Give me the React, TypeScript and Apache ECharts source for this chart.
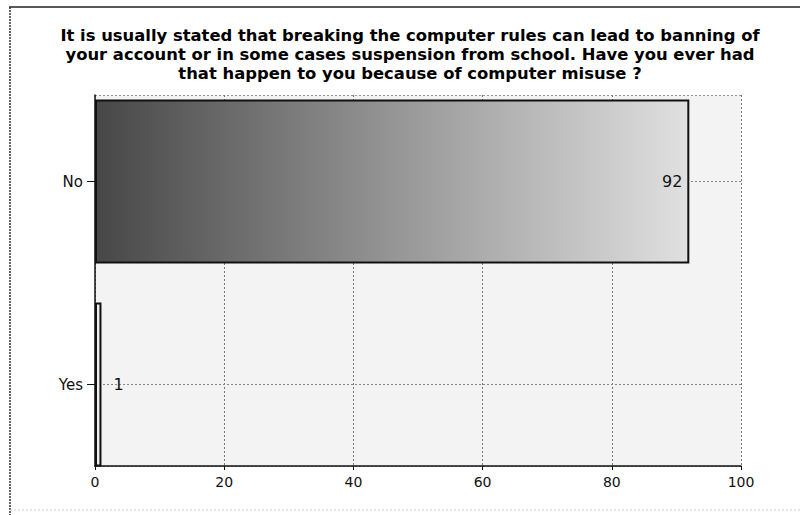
import React, { useEffect, useRef } from "react";
import * as echarts from "echarts";

const titleLines = [
  "It is usually stated that breaking the computer rules can lead to banning of",
  "your account or in some cases suspension from school. Have you ever had",
  "that happen to you because of computer misuse ?",
];
const categories = ["No", "Yes"];
const values = [92, 1];
const xTicks = { min: 0, max: 100, interval: 20 };

export default function App() {
  const ref = useRef<HTMLDivElement>(null);
  useEffect(() => {
    document.body.style.margin = "0";
    const chart = echarts.init(ref.current!, null, { renderer: "svg" });
    const font = "DejaVu Sans, Liberation Sans, Arial, sans-serif";
    const noGradient = new echarts.graphic.LinearGradient(0, 0, 1, 0, [
      { offset: 0, color: "#474747" },
      { offset: 0.5, color: "#959595" },
      { offset: 1, color: "#e0e0e0" },
    ]);
    chart.setOption({
      animation: false,
      backgroundColor: "#ffffff",
      grid: [
        { left: 95, right: 59, top: 80, bottom: 29, show: false },
        {
          left: 95,
          right: 59,
          top: 95,
          bottom: 49,
          show: true,
          backgroundColor: "#f3f3f3",
          borderWidth: 0,
        },
      ],
      xAxis: [
        {
          gridIndex: 0,
          type: "value",
          ...xTicks,
          show: false,
        },
        {
          gridIndex: 1,
          type: "value",
          ...xTicks,
          axisLine: { show: true, lineStyle: { color: "#111", width: 1.5 } },
          axisTick: { show: true, length: 4, lineStyle: { color: "#111" } },
          axisLabel: { color: "#111", fontFamily: font, fontSize: 14, margin: 9 },
          splitLine: {
            show: true,
            lineStyle: { color: "#777", type: [2, 2], width: 1 },
          },
        },
      ],
      yAxis: [
        {
          gridIndex: 0,
          type: "category",
          data: categories,
          inverse: true,
          axisLine: { show: false },
          axisTick: {
            show: true,
            alignWithLabel: true,
            length: 8,
            lineStyle: { color: "#111" },
          },
          axisLabel: { color: "#111", fontFamily: font, fontSize: 15, margin: 12 },
          splitLine: { show: false },
        },
        {
          gridIndex: 1,
          type: "value",
          min: 0,
          max: 1,
          interval: 1,
          axisLine: { show: true, lineStyle: { color: "#111", width: 1.5 } },
          axisTick: { show: false },
          axisLabel: { show: false },
          splitLine: {
            show: true,
            lineStyle: { color: "#999", type: [2, 2], width: 1 },
          },
        },
      ],
      series: [
        {
          type: "line",
          xAxisIndex: 0,
          yAxisIndex: 0,
          data: [],
          z: 1,
          silent: true,
          markLine: {
            silent: true,
            symbol: "none",
            label: { show: false },
            z: 1,
            lineStyle: { color: "#888", type: [2, 2], width: 1 },
            data: categories.map((c) => ({ yAxis: c })),
          },
        },
        {
          type: "bar",
          xAxisIndex: 0,
          yAxisIndex: 0,
          z: 3,
          barWidth: 164,
          itemStyle: { borderColor: "#111", borderWidth: 2 },
          data: values.map((v, i) => ({
            value: v,
            itemStyle: { color: i === 0 ? noGradient : "#eeeeee" },
            label: {
              show: true,
              position: i === 0 ? "insideRight" : "right",
              distance: i === 0 ? 7 : 12,
              color: "#111",
              fontFamily: font,
              fontSize: 16,
            },
          })),
        },
      ],
      graphic: [
        {
          type: "text",
          x: 410,
          y: 26,
          style: {
            text: titleLines.join("\n"),
            textAlign: "center",
            textVerticalAlign: "top",
            fill: "#000",
            font: `bold 16.4px ${font}`,
            lineHeight: 18.8,
          },
        },
        {
          type: "line",
          shape: { x1: 9, y1: 7, x2: 800, y2: 7 },
          style: { stroke: "#222", lineWidth: 1.5 },
        },
        {
          type: "line",
          shape: { x1: 10, y1: 7, x2: 10, y2: 515 },
          style: { stroke: "#333", lineWidth: 1.5, lineDash: [2, 1] },
        },
        {
          type: "line",
          shape: { x1: 10, y1: 510, x2: 800, y2: 510 },
          style: { stroke: "#ccc", lineWidth: 1, lineDash: [2, 2] },
        },
      ],
    });
    return () => chart.dispose();
  }, []);
  return <div ref={ref} style={{ width: 800, height: 515 }} />;
}
